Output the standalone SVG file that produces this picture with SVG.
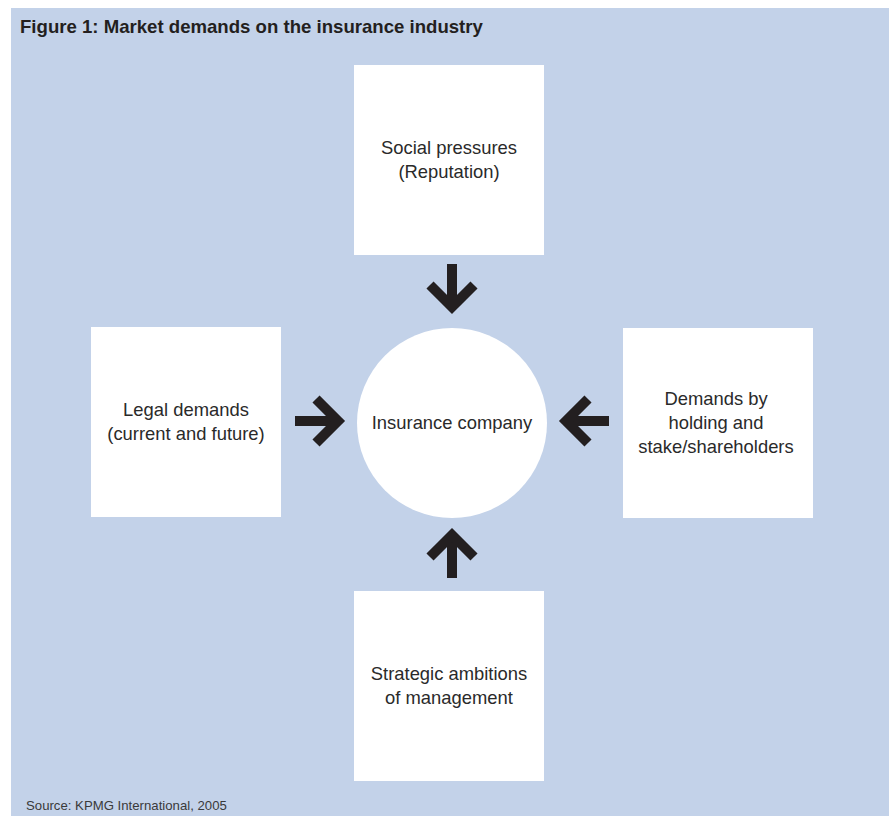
<svg xmlns="http://www.w3.org/2000/svg" width="889" height="816" viewBox="0 0 889 816">
<style>
.box{fill:#ffffff}
.lbl{font-family:"Liberation Sans",Arial,sans-serif;font-size:18.4px;fill:#2a2a2a;text-anchor:middle}
.arr{fill:none;stroke:#231f20;stroke-width:10;stroke-linejoin:miter;stroke-miterlimit:10}
</style>
<defs>
<g id="arrow">
<line class="arr" x1="-25" y1="0" x2="18" y2="0"/>
<polyline class="arr" points="-4,-22 18,0 -4,22"/>
</g>
</defs>
<rect x="11" y="8" width="878" height="808" fill="#c3d2e9"/>
<text x="20" y="33" font-family="Liberation Sans,Arial,sans-serif" font-size="18.6" font-weight="bold" fill="#231f20">Figure 1: Market demands on the insurance industry</text>
<g id="node-social">
<rect class="box" x="354" y="65" width="190" height="190"/>
<text class="lbl" x="449" y="154">Social pressures</text>
<text class="lbl" x="449" y="178">(Reputation)</text>
</g>
<g id="node-legal">
<rect class="box" x="91" y="327" width="190" height="190"/>
<text class="lbl" x="186" y="416">Legal demands</text>
<text class="lbl" x="186" y="440">(current and future)</text>
</g>
<g id="node-holding">
<rect class="box" x="623" y="328" width="190" height="190"/>
<text class="lbl" x="716" y="405">Demands by</text>
<text class="lbl" x="716" y="429">holding and</text>
<text class="lbl" x="716" y="453">stake/shareholders</text>
</g>
<g id="node-strategic">
<rect class="box" x="354" y="591" width="190" height="190"/>
<text class="lbl" x="449" y="680">Strategic ambitions</text>
<text class="lbl" x="449" y="704">of management</text>
</g>
<g id="node-insurance">
<circle class="box" cx="452" cy="423" r="95"/>
<text class="lbl" x="452" y="429">Insurance company</text>
</g>
<g id="connectors">
<use href="#arrow" transform="translate(452,289) rotate(90)"/>
<use href="#arrow" transform="translate(320,421)"/>
<use href="#arrow" transform="translate(584,421) rotate(180)"/>
<use href="#arrow" transform="translate(452,553) rotate(-90)"/>
</g>
<text x="26" y="810" font-family="Liberation Sans,Arial,sans-serif" font-size="13.2" fill="#3a3a3a">Source: KPMG International, 2005</text>
</svg>
